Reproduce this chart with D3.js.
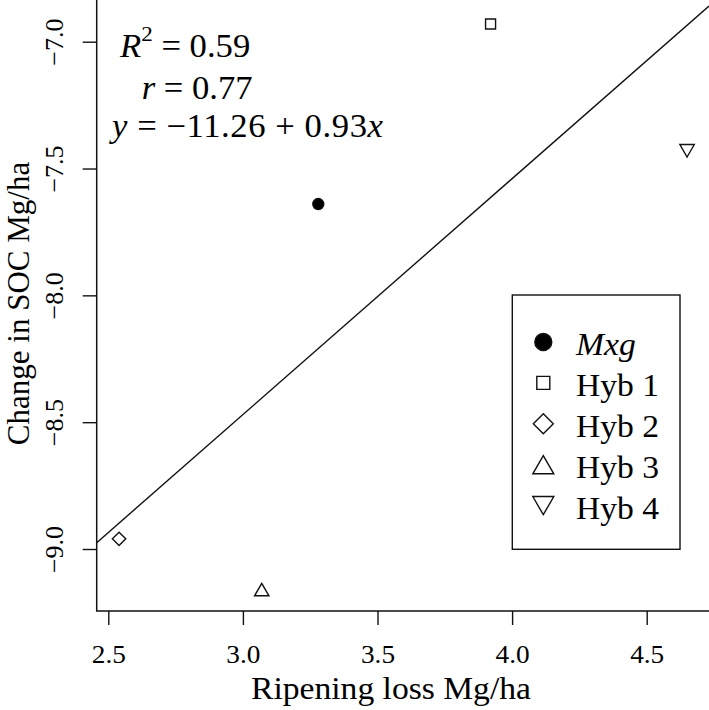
<!DOCTYPE html>
<html>
<head>
<meta charset="utf-8">
<style>
  body { margin: 0; background: #fff; }
  svg text { font-family: "Liberation Serif", "Times New Roman", serif !important; fill: #000; }
</style>
</head>
<body>
<svg id="chart" width="709" height="710"></svg>
<script src="https://d3js.org/d3.v7.min.js"></script>
<script>

// data
var groups = ["Mxg", "Hyb 1", "Hyb 2", "Hyb 3", "Hyb 4"];
var ripeningLoss = [3.28, 3.92, 2.54, 3.07, 4.65];
var socChange = [-7.64, -6.93, -8.96, -9.16, -7.43];
var shapes = ["circle", "square", "diamond", "triangle-up", "triangle-down"];
var xTicks = [2.5, 3.0, 3.5, 4.0, 4.5];
var yTicks = [-9.0, -8.5, -8.0, -7.5, -7.0];
var fitIntercept = -11.26, fitSlope = 0.93;
var rSquared = "0.59", rValue = "0.77";

var serif = '"Liberation Serif", "Times New Roman", serif';

var svg = d3.select("#chart").attr("font-family", serif),
    stretch = 1.05,
    // plot region edges (top and right run off the picture)
    plotLeft = 96.7, plotBottom = 611, plotTop = 0, plotRight = 709;

var x = d3.scaleLinear().domain([2.5, 4.5]).range([108.3, 646.7]);
var y = d3.scaleLinear().domain([-9.0, -7.0]).range([549, 41.7]);

// axes
var xAxis = svg.append("g")
    .attr("transform", "translate(0," + plotBottom + ")")
    .call(d3.axisBottom(x).tickValues(xTicks).tickSize(14).tickFormat(d3.format(".1f")))
    .attr("font-family", serif);
xAxis.select(".domain").remove();
xAxis.selectAll("line").attr("stroke", "#111").attr("stroke-width", 1.4);
xAxis.selectAll("text")
    .attr("y", 0).attr("dy", null)
    .attr("transform", "translate(0,52) scale(" + stretch + ",1)")
    .style("font-family", serif)
    .style("font-size", "26px");

var yAxis = svg.append("g")
    .attr("transform", "translate(" + plotLeft + ",0)")
    .call(d3.axisLeft(y).tickValues(yTicks).tickSize(14).tickFormat(d3.format(".1f")))
    .attr("font-family", serif);
yAxis.select(".domain").remove();
yAxis.selectAll("line").attr("stroke", "#111").attr("stroke-width", 1.4);
yAxis.selectAll("text")
    .attr("x", 0).attr("dy", null)
    .attr("text-anchor", "middle")
    .attr("transform", "translate(-33.7,0) rotate(-90)")
    .style("font-family", serif)
    .style("font-size", "26px");

// L shaped frame (bty = "l")
svg.append("path")
    .attr("d", "M" + plotLeft + "," + plotTop + "V" + plotBottom + "H" + plotRight)
    .attr("fill", "none")
    .attr("stroke", "#111")
    .attr("stroke-width", 1.5);

// axis titles
svg.append("text")
    .attr("text-anchor", "middle")
    .attr("transform", "translate(391,699) scale(" + stretch + ",1)")
    .style("font-family", serif)
    .style("font-size", "32px")
    .text("Ripening loss Mg/ha");

svg.append("text")
    .attr("text-anchor", "middle")
    .attr("transform", "translate(28.5,303.5) rotate(-90)")
    .style("font-family", serif)
    .style("font-size", "31px")
    .text("Change in SOC Mg/ha");

// fitted line, clipped to the plot region
svg.append("clipPath").attr("id", "plotclip")
  .append("rect")
    .attr("x", plotLeft).attr("y", plotTop)
    .attr("width", plotRight - plotLeft).attr("height", plotBottom - plotTop);

var x0 = x.invert(plotLeft), x1 = x.invert(plotRight);
svg.append("line")
    .attr("clip-path", "url(#plotclip)")
    .attr("x1", x(x0)).attr("y1", y(fitIntercept + fitSlope * x0))
    .attr("x2", x(x1)).attr("y2", y(fitIntercept + fitSlope * x1))
    .attr("stroke", "#111")
    .attr("stroke-width", 1.4);

// R style point symbols
function symbolPath(shape, s) {
  if (shape == "square") {
    return "M" + (-s) + "," + (-s) + "H" + s + "V" + s + "H" + (-s) + "Z";
  } else if (shape == "diamond") {
    return "M0," + (-s) + "L" + s + ",0L0," + s + "L" + (-s) + ",0Z";
  } else if (shape == "triangle-up") {
    var h = s * 0.866 * 2;
    return "M0," + (-h / 2) + "L" + s + "," + (h / 2) + "H" + (-s) + "Z";
  } else if (shape == "triangle-down") {
    var h2 = s * 0.866 * 2;
    return "M0," + (h2 / 2) + "L" + s + "," + (-h2 / 2) + "H" + (-s) + "Z";
  }
  return d3.symbol(d3.symbolCircle, Math.PI * s * s)();
}

function drawSymbol(g, shape, s) {
  g.append("path")
      .attr("d", symbolPath(shape, s))
      .attr("fill", shape == "circle" ? "#000" : "none")
      .attr("stroke", "#111")
      .attr("stroke-width", 1.4)
      .attr("stroke-linejoin", "miter");
}

var plotSize = {"circle": 5.5, "square": 5, "diamond": 6.7, "triangle-up": 7.2, "triangle-down": 7.2};
var legendSize = {"circle": 8.5, "square": 6.5, "diamond": 10, "triangle-up": 10.5, "triangle-down": 10.5};

groups.forEach(function(name, i) {
  var g = svg.append("g")
      .attr("transform", "translate(" + x(ripeningLoss[i]) + "," + y(socChange[i]) + ")");
  drawSymbol(g, shapes[i], plotSize[shapes[i]]);
});

// legend
var legend = svg.append("g");
legend.append("rect")
    .attr("x", 512.3).attr("y", 295)
    .attr("width", 167.7).attr("height", 254.3)
    .attr("fill", "#fff")
    .attr("stroke", "#111")
    .attr("stroke-width", 1.4);

groups.forEach(function(name, i) {
  var cy = 342 + i * 40.9;
  var g = legend.append("g").attr("transform", "translate(543.3," + cy + ")");
  drawSymbol(g, shapes[i], legendSize[shapes[i]]);
  legend.append("text")
      .attr("transform", "translate(576," + (cy + 13) + ") scale(" + stretch + ",1)")
      .style("font-family", serif)
      .style("font-size", "32px")
      .style("font-style", i == 0 ? "italic" : "normal")
      .text(name);
});

// fit statistics
function statLine(tx, ty) {
  return svg.append("text")
      .attr("transform", "translate(" + tx + "," + ty + ") scale(" + stretch + ",1)")
      .style("font-family", serif)
      .style("font-size", "33px");
}

var l1 = statLine(120, 57);
l1.append("tspan").style("font-style", "italic").text("R");
l1.append("tspan").attr("dy", -16).style("font-size", "22px").text("2");
l1.append("tspan").attr("dy", 16).text(" = " + rSquared);

var l2 = statLine(141.7, 98.5);
l2.append("tspan").style("font-style", "italic").text("r");
l2.append("tspan").text(" = " + rValue);

var l3 = statLine(112, 137)
    .attr("textLength", 258)
    .attr("lengthAdjust", "spacing");
l3.append("tspan").style("font-style", "italic").text("y");
l3.append("tspan").text(" = \u2212" + Math.abs(fitIntercept).toFixed(2) + " + " + fitSlope.toFixed(2));
l3.append("tspan").style("font-style", "italic").text("x");

</script>
</body>
</html>
